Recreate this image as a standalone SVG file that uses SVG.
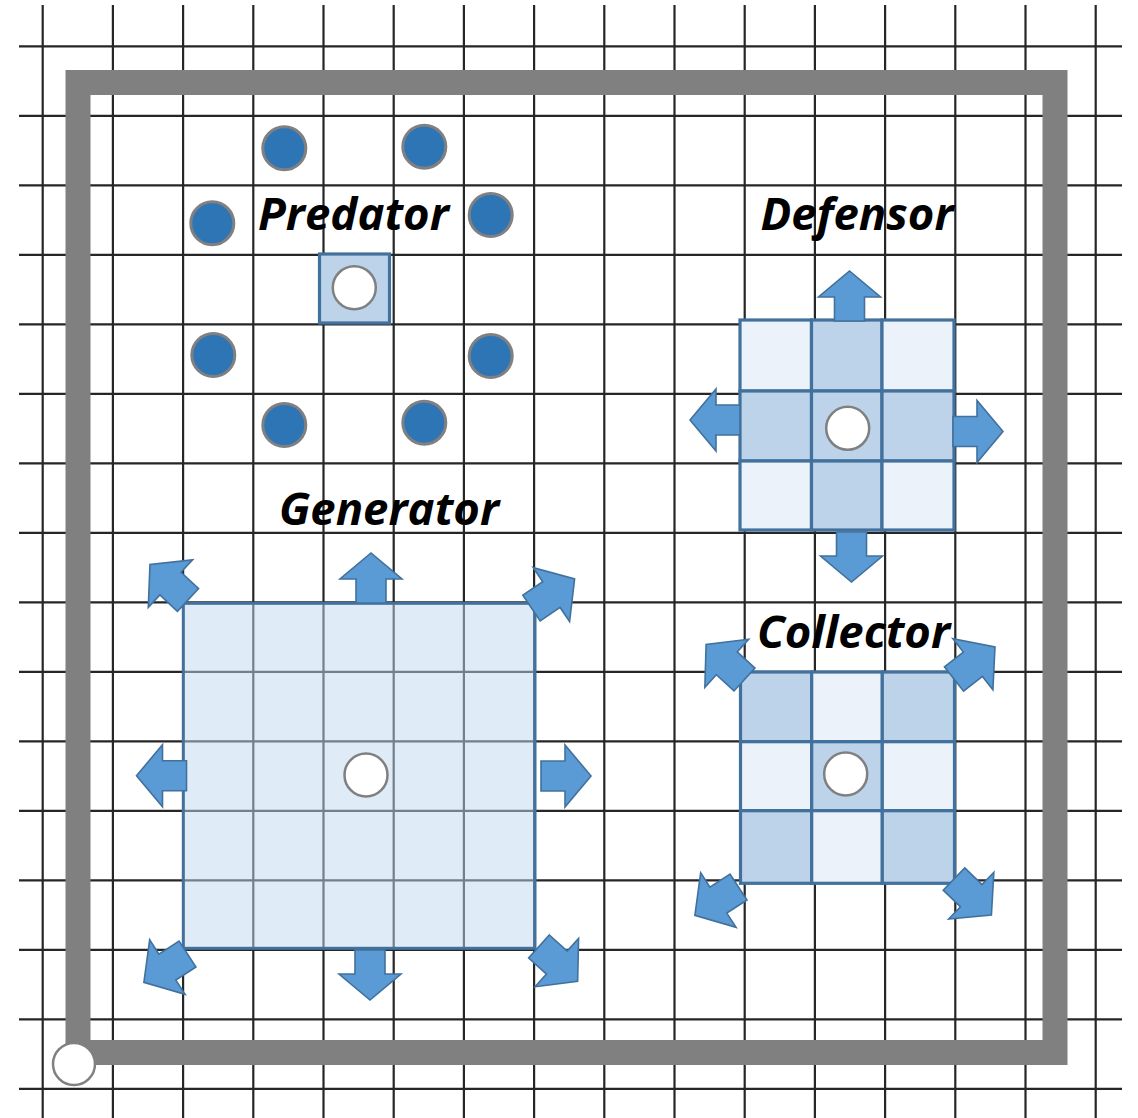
<svg xmlns="http://www.w3.org/2000/svg" width="1138" height="1118" viewBox="0 0 1138 1118">
<style>
.grid{stroke:#262626;stroke-width:2.2;fill:none}
.wall{stroke:#808080;stroke-width:25;fill:none}
.cellL{fill:#EBF2FA;stroke:#41719C;stroke-width:3.2}
.cellM{fill:#BCD3EA;stroke:#41719C;stroke-width:3.2}
.agent{fill:#FFFFFF;stroke:#808080;stroke-width:2.5}
.dot{fill:#2E75B6;stroke:#808080;stroke-width:3}
.arr{fill:#5B9BD5;stroke:#41719C;stroke-width:1.6}
.lbl{font-family:"Open Sans","Liberation Sans",sans-serif;font-weight:bold;font-style:italic;font-size:45.5px;fill:#000;text-anchor:middle}
</style>
<defs>
<path id="arrow" d="M0,-15 H24 V-31 L50,0 L24,31 V15 H0 Z"/>
<path id="darrow" d="M0,-15.5 H24 V-32.5 L52,0 L24,32.5 V15.5 H0 Z"/>
</defs>
<rect width="1138" height="1118" fill="#FFFFFF"/>
<g id="grid" class="grid">
<path d="M42.7,5V1118M112.9,5V1118M183.1,5V1118M253.3,5V1118M323.5,5V1118M393.7,5V1118M463.9,5V1118M534.1,5V1118M604.3,5V1118M674.5,5V1118M744.7,5V1118M814.9,5V1118M885.1,5V1118M955.3,5V1118M1025.5,5V1118M1095.7,5V1118"/>
<path d="M19,46.3H1122M19,115.8H1122M19,185.3H1122M19,254.8H1122M19,324.3H1122M19,393.8H1122M19,463.3H1122M19,532.8H1122M19,602.3H1122M19,671.8H1122M19,741.3H1122M19,810.8H1122M19,880.3H1122M19,949.8H1122M19,1019.3H1122M19,1088.8H1122"/>
</g>
<g id="arena">
<rect class="wall" x="78" y="82.5" width="977" height="970"/>
<circle class="agent" cx="74" cy="1064" r="21"/>
</g>
<g id="predator">
<circle class="dot" cx="284.3" cy="148.3" r="21.5"/>
<circle class="dot" cx="424.3" cy="146.7" r="21.5"/>
<circle class="dot" cx="212.3" cy="223.3" r="21.5"/>
<circle class="dot" cx="490.7" cy="215" r="21.5"/>
<circle class="dot" cx="213.3" cy="355" r="21.5"/>
<circle class="dot" cx="490.7" cy="356" r="21.5"/>
<circle class="dot" cx="284.3" cy="425" r="21.5"/>
<circle class="dot" cx="424.3" cy="422.7" r="21.5"/>
<rect class="cellM" x="319.5" y="254" width="70" height="69"/>
<circle class="agent" cx="354.3" cy="287.7" r="21.5"/>
<text class="lbl" x="353.5" y="230">Predator</text>
</g>
<g id="defensor">
<rect class="cellL" x="740" y="320" width="71.5" height="71"/>
<rect class="cellM" x="811.5" y="320" width="70.5" height="71"/>
<rect class="cellL" x="882" y="320" width="72" height="71"/>
<rect class="cellM" x="740" y="391" width="71.5" height="70"/>
<rect class="cellM" x="811.5" y="391" width="70.5" height="70"/>
<rect class="cellM" x="882" y="391" width="72" height="70"/>
<rect class="cellL" x="740" y="461" width="71.5" height="69"/>
<rect class="cellM" x="811.5" y="461" width="70.5" height="69"/>
<rect class="cellL" x="882" y="461" width="72" height="69"/>
<circle class="agent" cx="847.7" cy="428.3" r="21.5"/>
<text class="lbl" x="857" y="230">Defensor</text>
</g>
<g id="generator">
<rect x="183.3" y="603.3" width="351.7" height="345" fill="#BFD7EF" fill-opacity="0.5" stroke="none"/>
<rect x="183.3" y="603.3" width="351.7" height="345" fill="none" stroke="#41719C" stroke-width="3"/>
<circle class="agent" cx="366" cy="775" r="21.5"/>
<text class="lbl" x="389" y="525">Generator</text>
</g>
<g id="collector">
<rect class="cellM" x="740.5" y="672" width="71.2" height="69.7"/>
<rect class="cellL" x="811.7" y="672" width="70.6" height="69.7"/>
<rect class="cellM" x="882.3" y="672" width="72.2" height="69.7"/>
<rect class="cellL" x="740.5" y="741.7" width="71.2" height="69"/>
<rect class="cellM" x="811.7" y="741.7" width="70.6" height="69"/>
<rect class="cellL" x="882.3" y="741.7" width="72.2" height="69"/>
<rect class="cellM" x="740.5" y="810.7" width="71.2" height="72.6"/>
<rect class="cellL" x="811.7" y="810.7" width="70.6" height="72.6"/>
<rect class="cellM" x="882.3" y="810.7" width="72.2" height="72.6"/>
<circle class="agent" cx="845.7" cy="774" r="21.5"/>
<text class="lbl" x="853.5" y="648">Collector</text>
</g>
<g id="connectors" class="arr">
<use href="#arrow" transform="translate(849.5,321) rotate(-90)"/>
<use href="#arrow" transform="translate(740,420) rotate(180)"/>
<use href="#arrow" transform="translate(953,431.5)"/>
<use href="#arrow" transform="translate(851.5,532) rotate(90)"/>
<use href="#arrow" transform="translate(371,603) rotate(-90)"/>
<use href="#arrow" transform="translate(370,950) rotate(90)"/>
<use href="#arrow" transform="translate(186.5,775.7) rotate(180)"/>
<use href="#arrow" transform="translate(541,776)"/>
<use href="#darrow" transform="translate(188,600) rotate(-137)"/>
<use href="#darrow" transform="translate(531.5,608) rotate(-34)"/>
<use href="#darrow" transform="translate(187.5,954) rotate(147)"/>
<use href="#darrow" transform="translate(539,946.5) rotate(42)"/>
<use href="#darrow" transform="translate(744.5,679.5) rotate(-137.6)"/>
<use href="#darrow" transform="translate(954,679) rotate(-38)"/>
<use href="#darrow" transform="translate(738.5,887) rotate(147)"/>
<use href="#darrow" transform="translate(954,879) rotate(44)"/>
</g>
</svg>
